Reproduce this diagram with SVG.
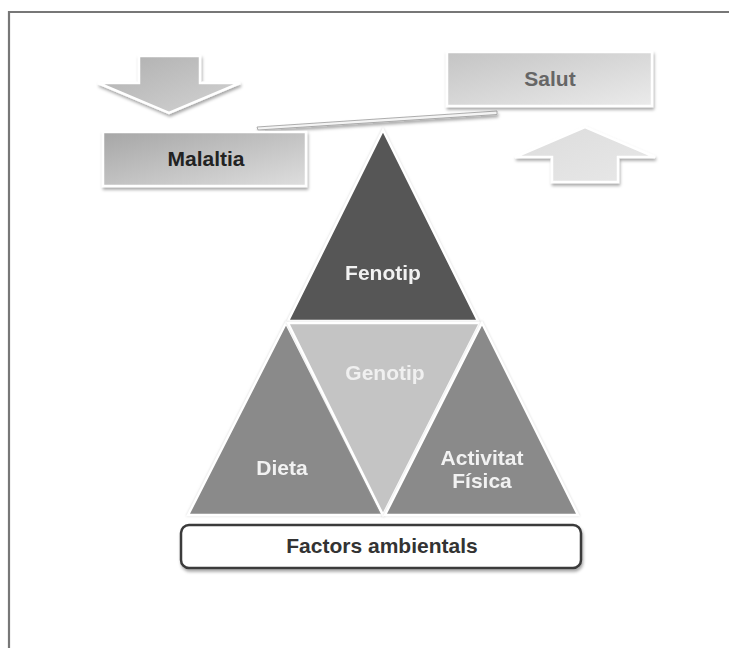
<svg xmlns="http://www.w3.org/2000/svg" width="729" height="648" viewBox="0 0 729 648">
  <style>
    .lbl { font-family: "Liberation Sans", Arial, sans-serif; font-weight: bold; font-size: 21px; text-anchor: middle; }
    .wt { fill: #f2f2f2; }
    .tri { stroke: #ffffff; stroke-width: 2.5; stroke-linejoin: miter; }
    .box { stroke: #ffffff; stroke-width: 2.5; }
    .arr { stroke: #ffffff; stroke-width: 2.5; stroke-linejoin: miter; }
  </style>
  <defs>
    <linearGradient id="gMal" x1="0" y1="0" x2="1" y2="1">
      <stop offset="0" stop-color="#a6a6a6"/>
      <stop offset="1" stop-color="#dedede"/>
    </linearGradient>
    <linearGradient id="gSal" x1="0" y1="0" x2="1" y2="1">
      <stop offset="0" stop-color="#c4c4c4"/>
      <stop offset="1" stop-color="#ebebeb"/>
    </linearGradient>
    <linearGradient id="gDown" x1="0" y1="0" x2="1" y2="1">
      <stop offset="0" stop-color="#aeaeae"/>
      <stop offset="1" stop-color="#d4d4d4"/>
    </linearGradient>
    <linearGradient id="gUp" x1="0" y1="0" x2="1" y2="1">
      <stop offset="0" stop-color="#dcdcdc"/>
      <stop offset="1" stop-color="#e8e8e8"/>
    </linearGradient>
    <filter id="sh" x="-10%" y="-10%" width="125%" height="135%">
      <feDropShadow dx="1" dy="2.5" stdDeviation="1.6" flood-color="#000" flood-opacity="0.35"/>
    </filter>
    <filter id="glow" x="-5%" y="-5%" width="110%" height="110%">
      <feDropShadow dx="0" dy="0" stdDeviation="1.2" flood-color="#bbbbbb" flood-opacity="0.6"/>
    </filter>
  </defs>

  <rect x="0" y="0" width="729" height="648" fill="#ffffff"/>
  <!-- frame -->
  <path d="M9,648 V12 H729" fill="none" stroke="#777777" stroke-width="2.2"/>

  <!-- beam -->
  <g id="connectors">
    <path d="M257,127 L497,111 L497,114.5 L258,130 Z" fill="#f4f4f4" stroke="#9a9a9a" stroke-width="0.8" filter="url(#sh)"/>
  </g>

  <g id="arrow-down">
    <path class="arr" d="M139,56 H200 V83 H240 L169,113 L98,83 H139 Z" fill="url(#gDown)" filter="url(#sh)"/>
  </g>

  <g id="arrow-up">
    <path class="arr" d="M552,182 V157 H515 L585,127 L655,157 H618 V182 Z" fill="url(#gUp)" filter="url(#sh)"/>
  </g>

  <g id="malaltia">
    <rect class="box" x="103" y="132" width="203" height="54" fill="url(#gMal)" filter="url(#sh)"/>
    <text class="lbl" x="206" y="166" fill="#222222">Malaltia</text>
  </g>

  <g id="salut">
    <rect class="box" x="447" y="52" width="205" height="54" fill="url(#gSal)" filter="url(#sh)"/>
    <text class="lbl" x="550" y="86" fill="#666666">Salut</text>
  </g>

  <g id="fenotip" filter="url(#glow)">
    <polygon class="tri" points="383,130 478,321 288,321" fill="#565656"/>
    <text class="lbl wt" x="383" y="280" font-size="22">Fenotip</text>
  </g>

  <g id="dieta" filter="url(#glow)">
    <polygon class="tri" points="286,323 383,515 188,515" fill="#8a8a8a"/>
    <text class="lbl wt" x="282" y="475">Dieta</text>
  </g>

  <g id="genotip" filter="url(#glow)">
    <polygon class="tri" points="288,323 480,323 383,515" fill="#c4c4c4"/>
    <text class="lbl" x="385" y="380" fill="#f0f0f0" font-size="22">Genotip</text>
  </g>

  <g id="activitat" filter="url(#glow)">
    <polygon class="tri" points="482,323 578,515 385,515" fill="#8a8a8a"/>
    <text class="lbl wt" x="482" y="465">Activitat</text>
    <text class="lbl wt" x="482" y="488">Física</text>
  </g>

  <g id="factors">
    <rect x="181" y="525" width="400" height="43" rx="8" ry="8" fill="#ffffff" stroke="#3a3a3a" stroke-width="2.5" filter="url(#sh)"/>
    <text class="lbl" x="382" y="553" fill="#333333" font-size="21.5">Factors ambientals</text>
  </g>
</svg>
